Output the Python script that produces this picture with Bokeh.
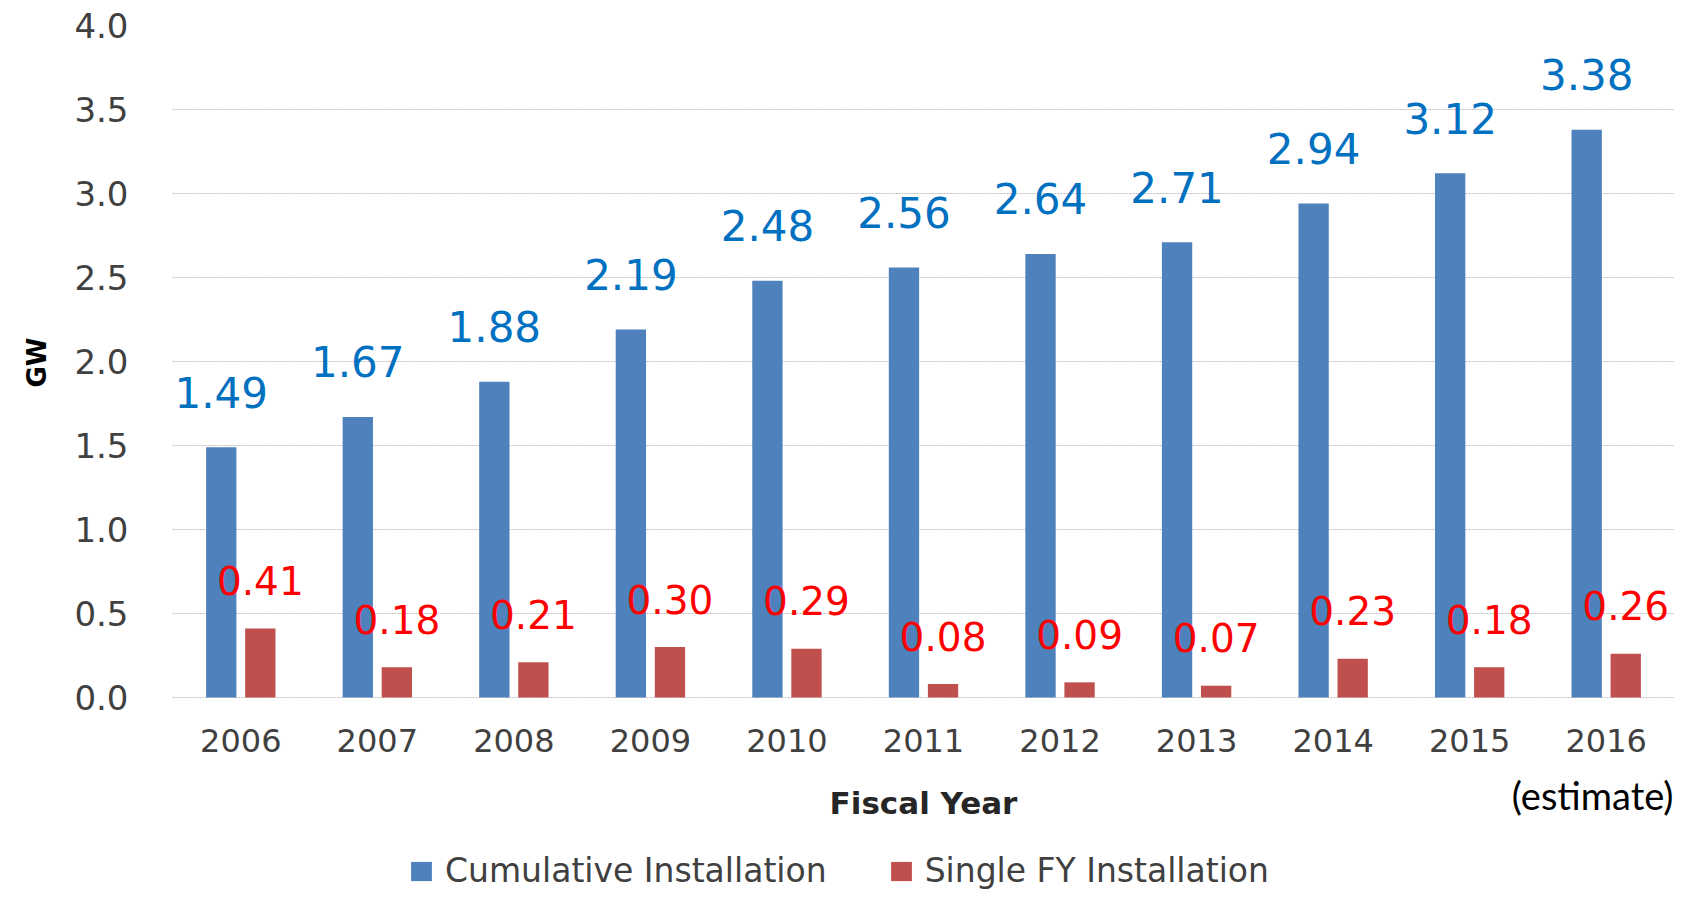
from bokeh.plotting import figure
from bokeh.models import (ColumnDataSource, FactorRange, Range1d, FixedTicker,
                          PrintfTickFormatter, Legend, LegendItem, Label, Title)
from bokeh.transform import dodge
from bokeh.core.properties import value
from bokeh.embed import file_html
from bokeh.resources import INLINE

years = ["2006", "2007", "2008", "2009", "2010", "2011", "2012", "2013", "2014", "2015", "2016"]
cumulative = [1.49, 1.67, 1.88, 2.19, 2.48, 2.56, 2.64, 2.71, 2.94, 3.12, 3.38]
single_fy = [0.41, 0.18, 0.21, 0.30, 0.29, 0.08, 0.09, 0.07, 0.23, 0.18, 0.26]
y_ticks = [0.0, 0.5, 1.0, 1.5, 2.0, 2.5, 3.0, 3.5, 4.0]

src = ColumnDataSource(dict(
    year=years,
    cum=cumulative,
    single=single_fy,
    cum_lbl=["%.2f" % v for v in cumulative],
    single_lbl=["%.2f" % v for v in single_fy],
))

FONT = "DejaVu Sans"

# the frame reaches down to the bottom edge so the note and legend can sit below the x axis
p = figure(width=1674, height=890, x_range=FactorRange(*years), y_range=Range1d(-1.149, 4.0),
           output_backend="svg", toolbar_location=None,
           min_border_left=172, min_border_right=0, min_border_top=25, min_border_bottom=0)
p.outline_line_color = None
p.background_fill_color = "white"
p.border_fill_color = "white"

off = 0.143
bw = 0.222
r_cum = p.vbar(x=dodge("year", -off, range=p.x_range), top="cum", width=bw, bottom=0,
               source=src, fill_color="#4F81BD", line_color=None)
r_single = p.vbar(x=dodge("year", off, range=p.x_range), top="single", width=bw, bottom=0,
                  source=src, fill_color="#C0504D", line_color=None)

p.text(x=dodge("year", -off, range=p.x_range), y="cum", text="cum_lbl", source=src,
       text_align="center", text_baseline="middle", y_offset=-55,
       text_font=value(FONT), text_font_size="42px", text_color="#0070C0")
p.text(x=dodge("year", off, range=p.x_range), y="single", text="single_lbl", source=src,
       text_align="center", text_baseline="middle", y_offset=-48,
       text_font=value(FONT), text_font_size="39px", text_color="#FF0000")

# grid
p.xgrid.grid_line_color = None
p.ygrid.ticker = FixedTicker(ticks=y_ticks)
p.ygrid.grid_line_color = "#BFBFBF"
p.ygrid.grid_line_dash = "2 1"
p.ygrid.grid_line_width = 1

# y axis
p.yaxis.ticker = FixedTicker(ticks=y_ticks)
p.yaxis.formatter = PrintfTickFormatter(format="%.1f")
p.yaxis.axis_line_color = None
p.yaxis.major_tick_line_color = None
p.yaxis.minor_tick_line_color = None
p.yaxis.major_label_standoff = 38
p.yaxis.major_label_text_font = FONT
p.yaxis.major_label_text_font_size = "34px"
p.yaxis.major_label_text_color = "#404040"

gw = Title(text="GW", align="right", offset=312, standoff=36, vertical_align="top",
           text_font=FONT, text_font_size="26px", text_font_style="bold", text_color="#000000")
p.add_layout(gw, "left")

# x axis, pinned at y = 0
p.xaxis.fixed_location = 0
p.xaxis.axis_line_color = None
p.xaxis.major_tick_line_color = None
p.xaxis.minor_tick_line_color = None
p.xaxis.major_label_standoff = 26
p.xaxis.major_label_text_font = FONT
p.xaxis.major_label_text_font_size = "32px"
p.xaxis.major_label_text_color = "#404040"
p.xaxis.axis_label = "Fiscal Year"
p.xaxis.axis_label_text_font = FONT
p.xaxis.axis_label_text_font_size = "31px"
p.xaxis.axis_label_text_font_style = "bold"
p.xaxis.axis_label_text_color = "#262626"
p.xaxis.axis_label_standoff = 29

# (estimate) note under 2016
est = Label(x=11, y=-0.583, text="(estimate)", x_offset=-1,
            text_align="right", text_baseline="middle",
            text_font="Lato", text_font_size="38px", text_color="#000000")
p.add_layout(est)

legend = Legend(items=[LegendItem(label="Cumulative Installation", renderers=[r_cum]),
                       LegendItem(label="Single FY Installation", renderers=[r_single])],
                orientation="horizontal", location=(236, 0),
                padding=0, margin=0, spacing=61, label_standoff=11,
                glyph_width=26, glyph_height=24,
                label_text_font=FONT, label_text_font_size="33px", label_text_color="#404040",
                border_line_color=None, background_fill_alpha=0)
p.add_layout(legend, "center")

open("out.html", "w").write(file_html(p, INLINE))
